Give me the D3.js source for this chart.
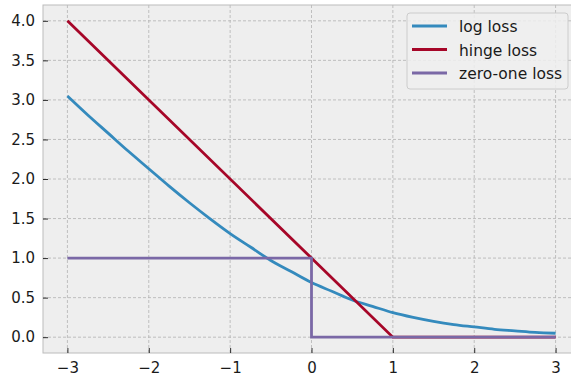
<!DOCTYPE html>
<html>
<head>
<meta charset="utf-8">
<script src="https://cdn.jsdelivr.net/npm/d3@7"></script>
<style>
  body { margin: 0; background: #fff; }
  svg { display: block; font-family: "DejaVu Sans", sans-serif; }
</style>
</head>
<body>
<svg id="chart" width="571" height="376"></svg>
<script>
// values
var logX = [-3, -2.75, -2.5, -2.25, -2, -1.75, -1.5, -1.25, -1, -0.75, -0.5, -0.25, 0,
            0.25, 0.5, 0.75, 1, 1.25, 1.5, 1.75, 2, 2.25, 2.5, 2.75, 3];
var logY = [3.05, 2.81, 2.58, 2.35, 2.13, 1.91, 1.70, 1.50, 1.31, 1.14, 0.97, 0.83, 0.69,
            0.58, 0.47, 0.39, 0.31, 0.25, 0.20, 0.16, 0.13, 0.10, 0.08, 0.06, 0.05];
var hingeX = [-3, 1, 3];
var hingeY = [4, 0, 0];
var zeroOneX = [-3, 0, 0, 3];
var zeroOneY = [1, 1, 0, 0];
var xTicks = [-3, -2, -1, 0, 1, 2, 3];
var yTicks = [0, 0.5, 1, 1.5, 2, 2.5, 3, 3.5, 4];
var seriesNames = ["log loss", "hinge loss", "zero-one loss"];
var seriesColors = ["#348ABD", "#A60628", "#7A68A6"];

var svg = d3.select("#chart"),
    margin = {top: 5, right: -9, bottom: 23, left: 43},
    width = 571 - margin.left - margin.right,
    height = 376 - margin.top - margin.bottom,
    g = svg.append("g").attr("transform", "translate(" + margin.left + "," + margin.top + ")");

var x = d3.scaleLinear().domain([-3.3, 3.3]).range([0, width]);
var y = d3.scaleLinear().domain([-0.2, 4.2]).range([height, 0]);

g.append("rect")
    .attr("width", width).attr("height", height)
    .attr("fill", "#eeeeee");

// grid
g.append("g").selectAll("line").data(xTicks).enter().append("line")
    .attr("x1", function (d) { return x(d); })
    .attr("x2", function (d) { return x(d); })
    .attr("y1", 0).attr("y2", height)
    .attr("stroke", "#b2b2b2").attr("stroke-width", 0.8)
    .attr("stroke-dasharray", "3,2");
g.append("g").selectAll("line").data(yTicks).enter().append("line")
    .attr("y1", function (d) { return y(d); })
    .attr("y2", function (d) { return y(d); })
    .attr("x1", 0).attr("x2", width)
    .attr("stroke", "#b2b2b2").attr("stroke-width", 0.8)
    .attr("stroke-dasharray", "3,2");

// frame
g.append("rect")
    .attr("width", width).attr("height", height)
    .attr("fill", "none").attr("stroke", "#bcbcbc").attr("stroke-width", 1);

// axes with inward ticks
var xAxis = g.append("g")
    .attr("transform", "translate(0," + height + ")")
    .call(d3.axisBottom(x).tickValues(xTicks).tickSizeInner(-5).tickSizeOuter(0).tickPadding(9)
        .tickFormat(d3.format("d")));
var yAxis = g.append("g")
    .call(d3.axisLeft(y).tickValues(yTicks).tickSizeInner(-5).tickSizeOuter(0).tickPadding(8)
        .tickFormat(d3.format(".1f")));
[xAxis, yAxis].forEach(function (a) {
    a.select(".domain").remove();
    a.selectAll(".tick line").attr("stroke", "#000").attr("stroke-width", 0.8);
    a.selectAll(".tick text").attr("fill", "#1a1a1a")
        .style("font-size", "15px").style("font-family", "'DejaVu Sans', sans-serif");
});

var line = d3.line()
    .x(function (d) { return x(d[0]); })
    .y(function (d) { return y(d[1]); });

var series = [
    d3.zip(logX, logY),
    d3.zip(hingeX, hingeY),
    d3.zip(zeroOneX, zeroOneY)
];

series.forEach(function (s, i) {
    g.append("path")
        .datum(s)
        .attr("fill", "none")
        .attr("stroke", seriesColors[i])
        .attr("stroke-width", 2.8)
        .attr("d", i === 0 ? line.curve(d3.curveMonotoneX)(s) : line.curve(d3.curveLinear)(s));
});

// legend
var lg = svg.append("g").attr("transform", "translate(407,13)");
lg.append("rect")
    .attr("width", 161).attr("height", 76)
    .attr("rx", 3)
    .attr("fill", "#eeeeee").attr("fill-opacity", 0.85)
    .attr("stroke", "#cccccc").attr("stroke-width", 1);
seriesNames.forEach(function (name, i) {
    var yy = 13 + i * 23.5;
    lg.append("line")
        .attr("x1", 5).attr("x2", 40)
        .attr("y1", yy).attr("y2", yy)
        .attr("stroke", seriesColors[i]).attr("stroke-width", 2.8);
    lg.append("text")
        .attr("x", 52).attr("y", yy + 6)
        .attr("fill", "#1a1a1a")
        .style("font-size", "15.5px")
        .text(name);
});
</script>
</body>
</html>
